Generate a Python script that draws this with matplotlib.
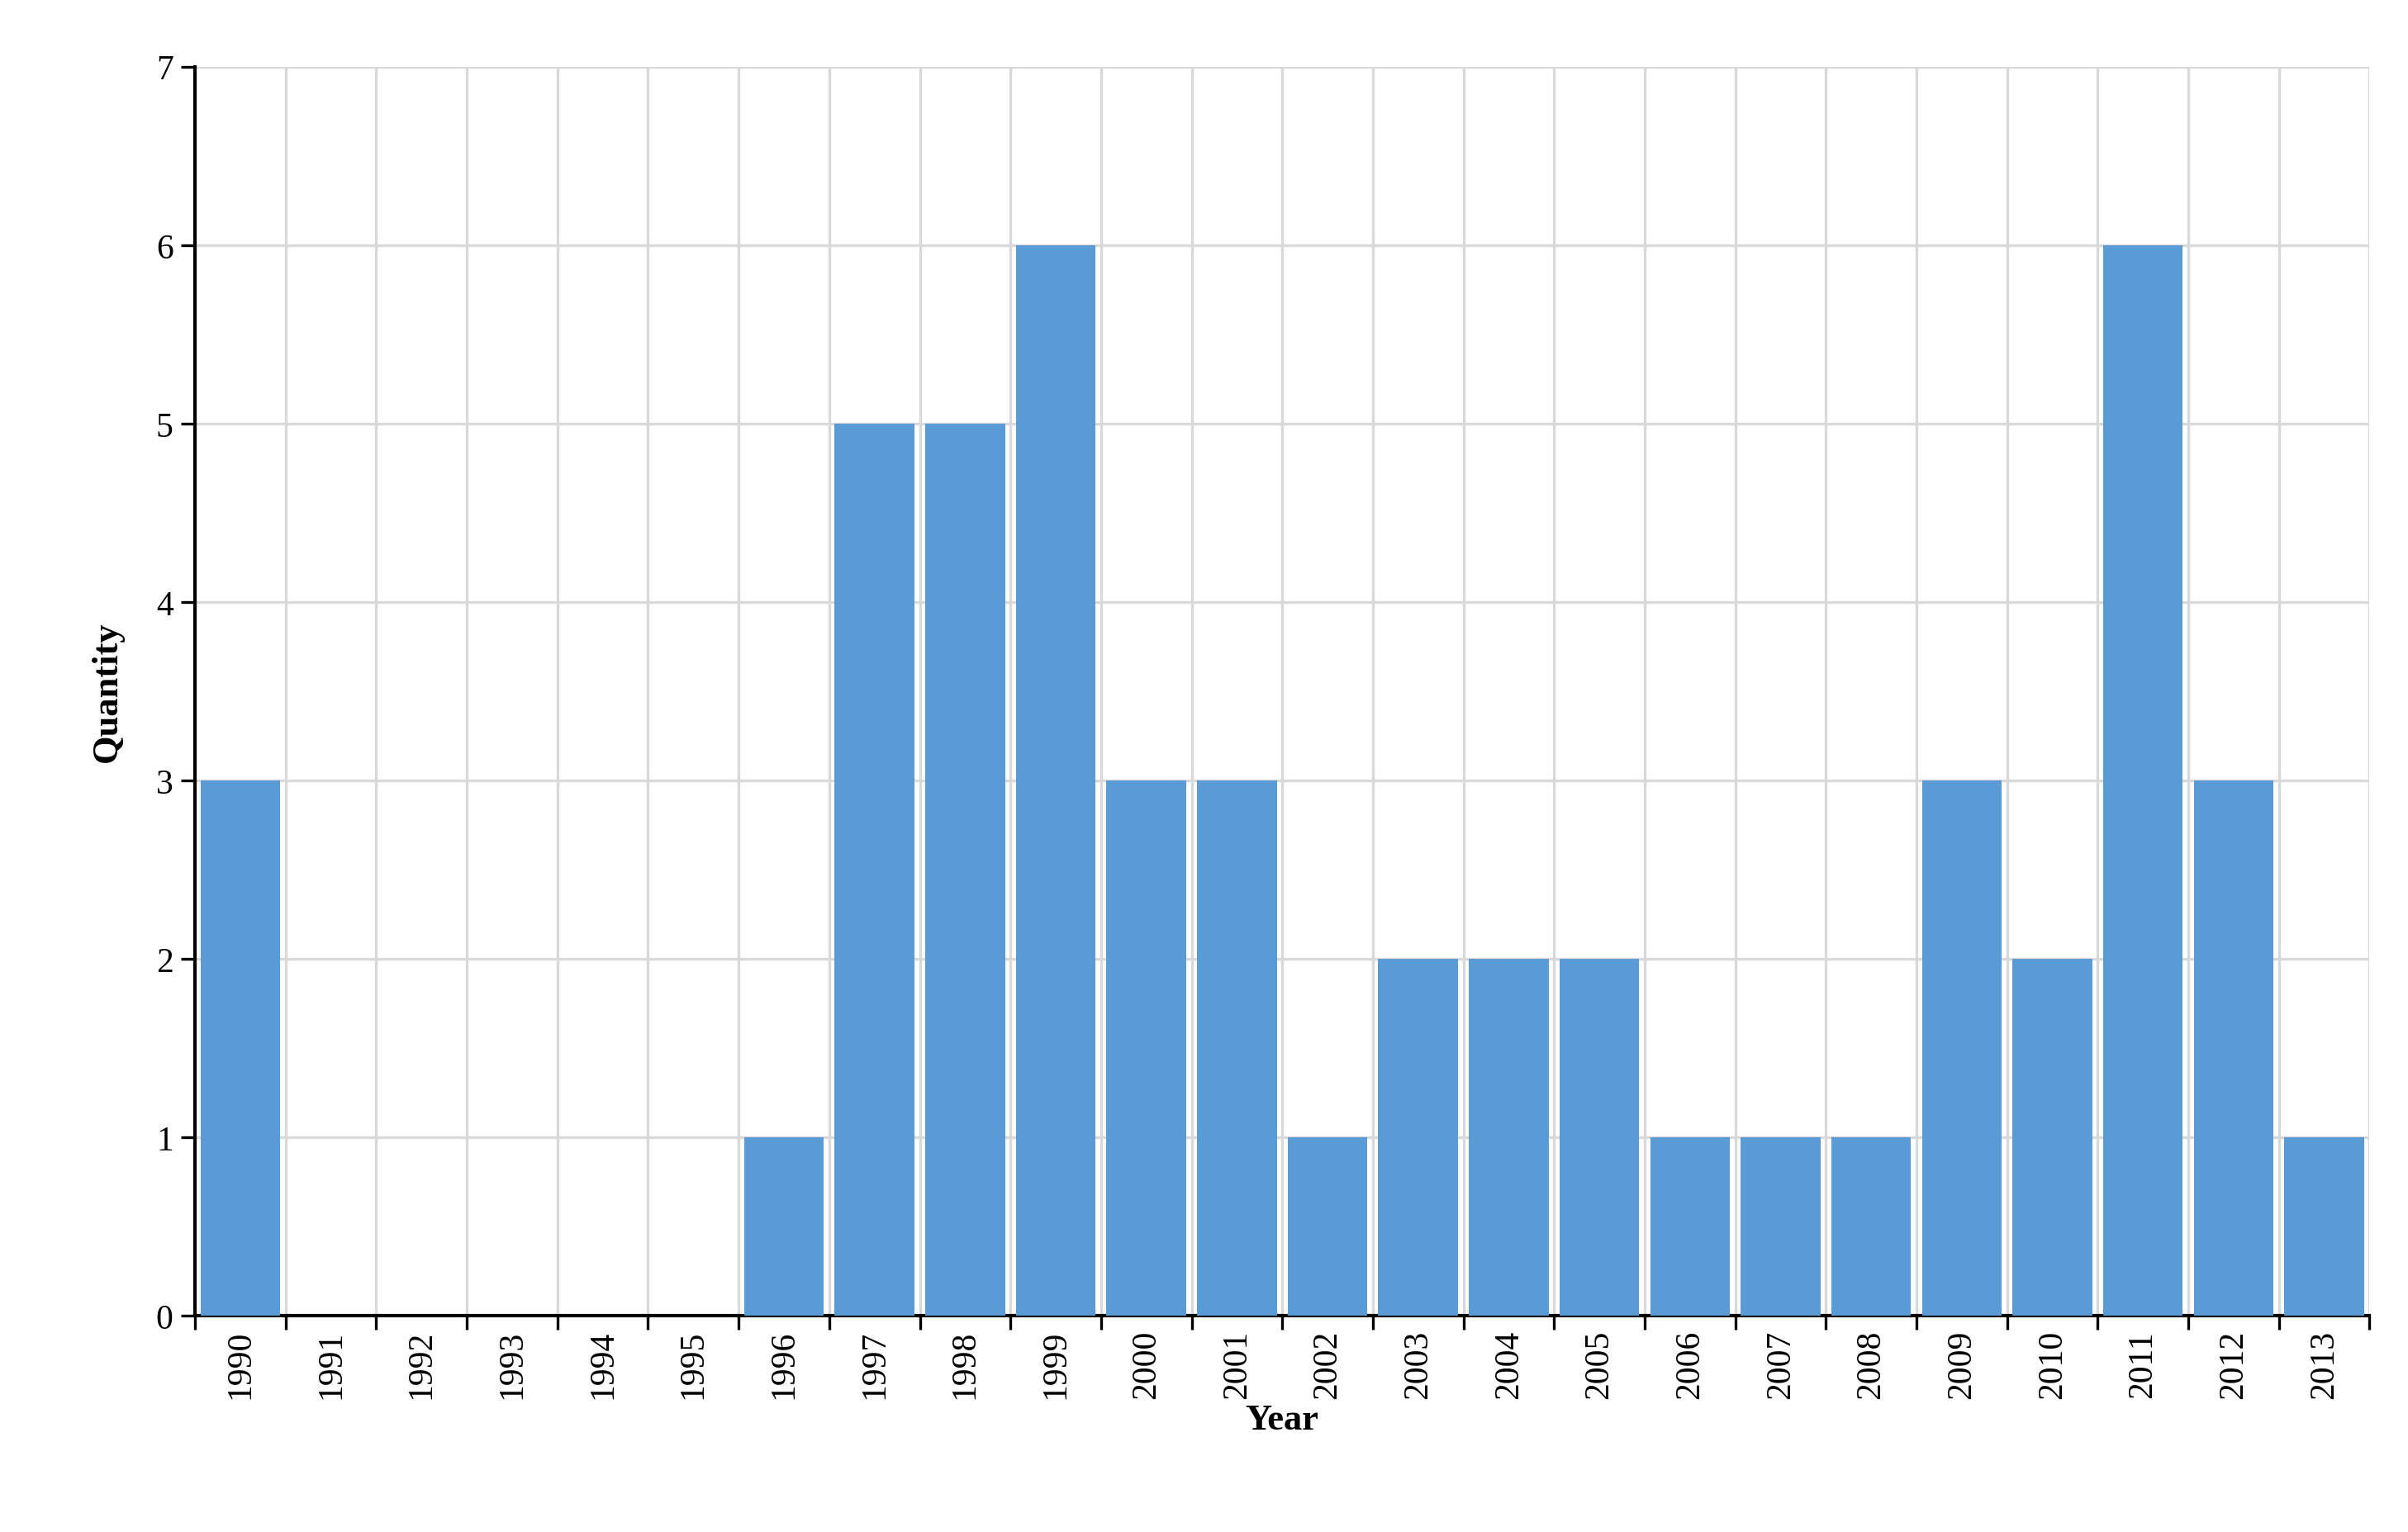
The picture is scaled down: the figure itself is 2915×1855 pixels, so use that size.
import matplotlib.pyplot as plt
import numpy as np

years = [str(y) for y in range(1990, 2014)]
quantity = [3, 0, 0, 0, 0, 0, 1, 5, 5, 6, 3, 3, 1, 2, 2, 2, 1, 1, 1, 3, 2, 6, 3, 1]

plt.rcParams['font.family'] = ['Liberation Serif', 'DejaVu Serif']

fig = plt.figure(figsize=(14.575, 9.28), dpi=200)
ax = fig.add_axes([0.081, 0.141, 0.903, 0.815])

x = np.arange(len(years))
ax.bar(x, quantity, width=0.88, color='#5B9BD5', zorder=3)

ax.set_xlim(-0.5, len(years) - 0.5)
ax.set_ylim(0, 7)

# boundaries carry the ticks and grid, centres carry the labels
ax.set_xticks(np.arange(-0.5, len(years) + 0.5, 1))
ax.set_xticklabels([])
ax.set_xticks(x, minor=True)
ax.set_xticklabels(years, minor=True, rotation=90, fontsize=15)
ax.tick_params(axis='x', which='minor', length=0, pad=6)
ax.tick_params(axis='x', which='major', direction='out', length=6, width=1.2)
ax.set_yticks(range(8))
ax.tick_params(axis='y', labelsize=15, direction='out', length=6, width=1.2)

ax.grid(True, which='major', color='#D9D9D9', linewidth=1.2, zorder=0)
ax.set_axisbelow(True)

for s in ['top', 'right']:
    ax.spines[s].set_visible(False)
for s in ['left', 'bottom']:
    ax.spines[s].set_linewidth(1.5)

ax.set_xlabel('Year', fontsize=16, fontweight='bold', labelpad=2)
ax.set_ylabel('Quantity', fontsize=16, fontweight='bold', labelpad=14)

fig.savefig('out.png', dpi=200)
